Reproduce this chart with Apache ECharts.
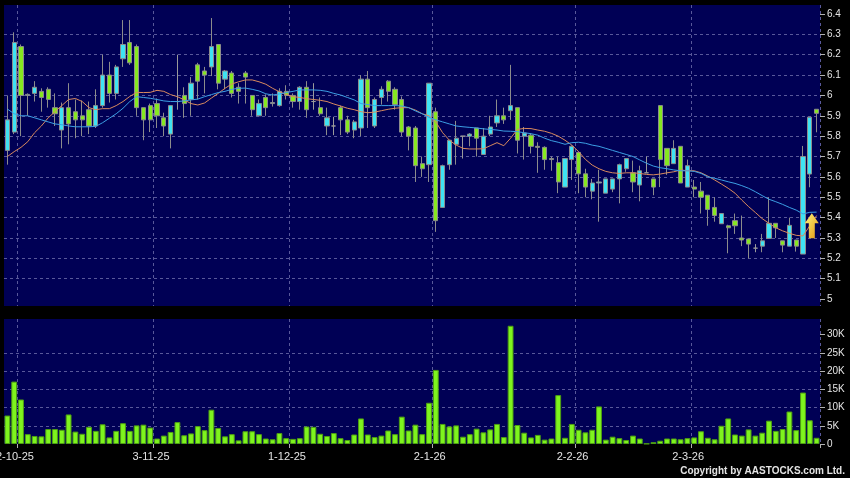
<!DOCTYPE html>
<html>
<head>
<meta charset="utf-8">
<title>AASTOCKS daily chart</title>
<script src="https://cdn.jsdelivr.net/npm/echarts@6/dist/echarts.min.js"></script>
<style>
  html, body { margin: 0; padding: 0; background: #000; }
  #chart { width: 850px; height: 478px; }
</style>
</head>
<body>
<div id="chart"></div>
<script>
// daily candles: [open, close, low, high]
const candles = [
  [5.73, 5.88, 5.66, 6.00], [5.82, 6.26, 5.81, 6.31], [6.24, 6.00, 5.80, 6.25], [6.00, 6.005, 5.90, 6.01],
  [6.01, 6.04, 5.97, 6.07], [6.02, 5.99, 5.92, 6.035], [6.03, 5.98, 5.94, 6.04], [5.94, 5.91, 5.85, 6.01],
  [5.83, 5.94, 5.74, 5.965], [5.94, 5.86, 5.76, 6.06], [5.92, 5.88, 5.79, 5.98], [5.90, 5.88, 5.80, 5.975],
  [5.93, 5.85, 5.81, 5.97], [5.85, 5.95, 5.84, 6.03], [5.95, 6.10, 5.94, 6.20], [6.10, 6.01, 5.965, 6.165],
  [6.01, 6.14, 5.98, 6.15], [6.18, 6.25, 6.14, 6.37], [6.26, 6.16, 6.15, 6.37], [6.24, 5.94, 5.90, 6.25],
  [5.94, 5.88, 5.78, 5.94], [5.95, 5.88, 5.82, 5.96], [5.96, 5.90, 5.84, 5.985], [5.89, 5.85, 5.80, 5.915],
  [5.81, 5.95, 5.74, 5.95], [5.97, 5.97, 5.93, 6.20], [6.00, 5.96, 5.89, 6.04], [5.98, 6.06, 5.90, 6.09],
  [6.15, 6.07, 5.98, 6.16], [6.12, 6.10, 6.01, 6.14], [6.14, 6.24, 6.095, 6.38], [6.25, 6.06, 6.03, 6.25],
  [6.08, 6.12, 6.03, 6.125], [6.11, 6.01, 5.99, 6.12], [6.04, 6.02, 5.96, 6.06], [6.11, 6.09, 5.96, 6.12],
  [6.00, 5.93, 5.90, 6.00], [5.90, 5.96, 5.90, 5.98], [5.99, 5.94, 5.90, 6.005], [5.96, 5.965, 5.945, 6.01],
  [5.95, 6.02, 5.945, 6.035], [6.02, 6.00, 5.98, 6.05], [6.00, 5.97, 5.94, 6.01], [5.97, 6.04, 5.93, 6.045],
  [6.04, 5.93, 5.89, 6.07], [5.97, 5.97, 5.93, 6.06], [5.94, 5.91, 5.90, 5.99], [5.85, 5.89, 5.805, 5.94],
  [5.85, 5.85, 5.805, 5.895], [5.94, 5.88, 5.805, 5.95], [5.88, 5.82, 5.81, 5.90], [5.83, 5.87, 5.79, 5.88],
  [5.84, 6.08, 5.80, 6.10], [6.08, 5.94, 5.84, 6.12], [5.85, 5.98, 5.84, 5.99], [5.99, 6.03, 5.955, 6.045],
  [6.07, 6.02, 5.97, 6.075], [6.03, 5.955, 5.93, 6.04], [5.98, 5.82, 5.80, 5.995], [5.845, 5.80, 5.73, 5.85],
  [5.84, 5.655, 5.575, 5.85], [5.665, 5.64, 5.60, 5.70], [5.66, 6.06, 5.575, 6.06], [5.92, 5.385, 5.33, 5.94],
  [5.45, 5.655, 5.45, 5.66], [5.66, 5.78, 5.635, 5.78], [5.76, 5.79, 5.66, 5.875], [5.80, 5.80, 5.69, 5.80],
  [5.80, 5.81, 5.75, 5.815], [5.84, 5.79, 5.70, 5.84], [5.71, 5.80, 5.71, 5.84], [5.81, 5.845, 5.80, 5.90],
  [5.865, 5.90, 5.845, 5.98], [5.90, 5.88, 5.86, 5.94], [5.925, 5.95, 5.88, 6.15], [5.94, 5.78, 5.715, 5.94],
  [5.80, 5.815, 5.685, 5.845], [5.805, 5.75, 5.715, 5.815], [5.75, 5.745, 5.62, 5.77], [5.745, 5.685, 5.635, 5.75],
  [5.69, 5.685, 5.63, 5.70], [5.67, 5.575, 5.52, 5.70], [5.55, 5.69, 5.55, 5.69], [5.685, 5.75, 5.585, 5.755],
  [5.72, 5.615, 5.52, 5.725], [5.615, 5.55, 5.50, 5.64], [5.53, 5.57, 5.49, 5.59], [5.57, 5.575, 5.38, 5.635],
  [5.52, 5.59, 5.52, 5.59], [5.54, 5.59, 5.525, 5.59], [5.59, 5.66, 5.47, 5.665], [5.64, 5.69, 5.625, 5.69],
  [5.62, 5.575, 5.525, 5.68], [5.56, 5.63, 5.48, 5.655], [5.62, 5.62, 5.62, 5.70], [5.59, 5.55, 5.51, 5.59],
  [5.95, 5.685, 5.55, 5.95], [5.74, 5.655, 5.61, 5.74], [5.665, 5.74, 5.665, 5.78], [5.75, 5.57, 5.57, 5.75],
  [5.55, 5.655, 5.55, 5.685], [5.55, 5.54, 5.50, 5.585], [5.53, 5.50, 5.42, 5.575], [5.51, 5.44, 5.36, 5.51],
  [5.45, 5.41, 5.38, 5.50], [5.37, 5.42, 5.37, 5.42], [5.36, 5.35, 5.225, 5.365], [5.385, 5.36, 5.32, 5.42],
  [5.30, 5.29, 5.26, 5.41], [5.295, 5.27, 5.20, 5.295], [5.25, 5.25, 5.23, 5.27], [5.26, 5.286, 5.23, 5.32],
  [5.298, 5.372, 5.298, 5.50], [5.372, 5.35, 5.30, 5.372], [5.286, 5.265, 5.23, 5.286], [5.26, 5.362, 5.26, 5.40],
  [5.29, 5.26, 5.233, 5.29], [5.221, 5.70, 5.221, 5.752], [5.614, 5.893, 5.549, 5.893], [5.932, 5.912, 5.819, 5.932]
];

// short moving average (orange)
const maShort = [
  5.70, 5.724, 5.745, 5.773, 5.817, 5.85, 5.89, 5.92, 5.95, 5.98, 5.985, 5.97, 5.94, 5.93, 5.935, 5.935, 5.95, 5.97, 5.995, 6.015,
  6.014, 6.015, 6.025, 6.02, 6.004, 5.994, 5.978, 5.96, 5.953, 5.963, 5.987, 6.01, 6.035, 6.056, 6.067, 6.076, 6.076, 6.067, 6.055, 6.035,
  6.018, 6.005, 5.994, 5.99, 5.984, 5.98, 5.976, 5.97, 5.958, 5.948, 5.937, 5.93, 5.92, 5.915, 5.918, 5.925, 5.932, 5.937, 5.94, 5.94,
  5.928, 5.91, 5.90, 5.87, 5.817, 5.78, 5.756, 5.74, 5.737, 5.737, 5.738, 5.753, 5.768, 5.753, 5.79, 5.833, 5.838, 5.837, 5.83, 5.824,
  5.814, 5.80, 5.78, 5.756, 5.724, 5.686, 5.658, 5.64, 5.627, 5.62, 5.617, 5.62, 5.62, 5.617, 5.612, 5.61, 5.614, 5.62, 5.625, 5.634,
  5.63, 5.63, 5.62, 5.604, 5.585, 5.565, 5.544, 5.52, 5.486, 5.454, 5.425, 5.395, 5.372, 5.35, 5.335, 5.323, 5.313, 5.31, 5.36, 5.41
];

// long moving average (blue)
const maLong = [
  5.933, 5.91, 5.90, 5.90, 5.89, 5.88, 5.87, 5.86, 5.856, 5.85, 5.846, 5.846, 5.846, 5.848, 5.866, 5.888, 5.91, 5.937, 5.97, 5.994,
  5.99, 5.986, 5.98, 5.973, 5.97, 5.97, 5.973, 5.978, 5.982, 5.994, 6.004, 6.014, 6.02, 6.03, 6.035, 6.036, 6.03, 6.022, 6.008, 6.002,
  6.007, 6.014, 6.02, 6.027, 6.027, 6.027, 6.025, 6.02, 6.01, 6.002, 5.99, 5.978, 5.96, 5.955, 5.95, 5.95, 5.95, 5.95, 5.948, 5.94,
  5.924, 5.91, 5.892, 5.88, 5.87, 5.86, 5.85, 5.846, 5.843, 5.84, 5.836, 5.833, 5.83, 5.825, 5.824, 5.822, 5.817, 5.812, 5.805, 5.79,
  5.778, 5.77, 5.76, 5.768, 5.77, 5.765, 5.756, 5.75, 5.74, 5.73, 5.72, 5.71, 5.70, 5.683, 5.667, 5.653, 5.645, 5.64, 5.634, 5.63,
  5.63, 5.627, 5.617, 5.60, 5.593, 5.585, 5.576, 5.568, 5.557, 5.544, 5.527, 5.508, 5.49, 5.478, 5.465, 5.45, 5.437, 5.418, 5.426, 5.427
];

// volume, thousands of shares
const volume = [
  7.8, 17.1, 12.2, 2.7, 2.2, 2.1, 4.1, 4.1, 3.9, 8.1, 3.4, 2.8, 4.7, 3.6, 5.4, 1.8, 3.6, 5.7, 3.6, 5.1,
  5.3, 4.5, 1.5, 2.3, 3.3, 6.0, 2.4, 2.9, 4.9, 3.8, 9.4, 4.4, 2.1, 2.7, 1.0, 3.5, 3.5, 2.7, 1.5, 1.3,
  3.0, 1.6, 1.4, 1.6, 4.8, 4.7, 2.8, 2.2, 3.0, 1.6, 1.1, 2.6, 7.0, 2.6, 1.9, 2.3, 3.7, 2.7, 7.5, 3.7,
  5.3, 2.7, 11.3, 20.3, 5.5, 4.8, 5.1, 2.0, 2.7, 4.2, 3.2, 4.0, 5.5, 1.9, 32.4, 5.2, 3.1, 1.8, 2.5, 1.2,
  1.5, 13.4, 1.7, 5.5, 3.9, 3.2, 3.9, 10.3, 1.2, 2.0, 1.6, 1.1, 2.3, 1.5, 0.1, 0.5, 0.9, 1.5, 1.5, 1.3,
  1.6, 1.8, 3.5, 1.7, 1.3, 5.0, 7.0, 2.6, 2.3, 4.0, 2.3, 3.1, 6.4, 3.6, 4.1, 8.9, 3.8, 14.1, 6.5, 1.7
];

const days = candles.map((_, i) => i);

// date ticks: a grid line sits at the start of these day slots, the label on the day before
const tickSlots = [2, 22, 42, 63, 84, 101];
const tickLabels = ['2-10-25', '3-11-25', '1-12-25', '2-1-26', '2-2-26', '2-3-26'];
const priceTicks = [5, 5.1, 5.2, 5.3, 5.4, 5.5, 5.6, 5.7, 5.8, 5.9, 6, 6.1, 6.2, 6.3, 6.4];
const volumeTicks = [0, 5, 10, 15, 20, 25, 30];

// yellow signal arrow: [day, price]
const arrowAt = [118, 5.36];

const chart = echarts.init(document.getElementById('chart'));

const font = 'Liberation Sans';
const textColor = '#e4e4e4';
const gridLine = { color: '#58589a', type: [3, 3], width: 1 };
const isSlot = (i) => tickSlots.includes(i);

chart.setOption({
  backgroundColor: '#000000',
  animation: false,
  grid: [
    { left: 4, right: 30, top: 5, height: 301, outerBoundsMode: 'none', containLabel: false,
      show: true, backgroundColor: '#000055', borderWidth: 0 },
    { left: 4, right: 30, top: 319, height: 125, outerBoundsMode: 'none', containLabel: false,
      show: true, backgroundColor: '#000055', borderWidth: 0 }
  ],
  xAxis: [
    {
      type: 'category',
      gridIndex: 0,
      data: days,
      axisLine: { show: false },
      axisTick: { show: false },
      axisLabel: { show: false },
      splitLine: { show: true, interval: isSlot, lineStyle: gridLine }
    },
    {
      type: 'category',
      gridIndex: 1,
      data: days,
      axisLine: { show: false },
      axisTick: { show: true, interval: isSlot, length: 4, lineStyle: { color: '#b0b0b0' } },
      axisLabel: {
        interval: (i) => tickSlots.includes(i + 1),
        formatter: (v, i) => tickLabels[tickSlots.indexOf(i + 1)],
        color: textColor,
        fontFamily: font,
        fontSize: 11,
        margin: 7,
        padding: [0, 0, 0, 1.5]
      },
      splitLine: { show: true, interval: isSlot, lineStyle: gridLine }
    }
  ],
  yAxis: [
    {
      type: 'value',
      gridIndex: 0,
      position: 'right',
      min: 4.966,
      max: 6.444,
      splitNumber: 15,
      minInterval: 0.1,
      maxInterval: 0.1,
      axisLine: { show: false },
      axisTick: { show: true, length: 5, customValues: priceTicks, lineStyle: { color: '#b0b0b0' } },
      axisLabel: { customValues: priceTicks, color: textColor, fontFamily: font, fontSize: 10, margin: 7 },
      splitLine: { show: true, showMinLine: false, showMaxLine: false, lineStyle: gridLine }
    },
    {
      type: 'value',
      gridIndex: 1,
      position: 'right',
      min: 0,
      max: 34.25,
      splitNumber: 7,
      minInterval: 5,
      maxInterval: 5,
      axisLine: { show: false },
      axisTick: { show: true, length: 5, customValues: volumeTicks, lineStyle: { color: '#b0b0b0' } },
      axisLabel: {
        customValues: volumeTicks,
        formatter: (v) => (v === 0 ? '0' : v + 'K'),
        color: textColor,
        fontFamily: font,
        fontSize: 10,
        margin: 7
      },
      splitLine: { show: true, showMinLine: false, showMaxLine: false, lineStyle: gridLine }
    }
  ],
  series: [
    {
      type: 'candlestick',
      xAxisIndex: 0,
      yAxisIndex: 0,
      data: candles,
      barWidth: '68%',
      clip: false,
      itemStyle: {
        color: '#3fe3f3',
        color0: '#86e820',
        borderColor: '#8c8c8c',
        borderColor0: '#8c8c8c',
        borderColorDoji: '#9a9a9a',
        borderWidth: 1
      },
      markPoint: {
        silent: true,
        symbol: 'path://M7,0 L14,10 L10,10 L10,25 L4,25 L4,10 L0,10 Z',
        symbolSize: [14, 25],
        symbolOffset: [2, 0],
        label: { show: false },
        itemStyle: {
          color: new echarts.graphic.LinearGradient(0, 0, 1, 1, [
            { offset: 0, color: '#fff27a' },
            { offset: 1, color: '#e39a12' }
          ])
        },
        data: [{ coord: arrowAt }]
      }
    },
    {
      name: 'MA short',
      type: 'line',
      xAxisIndex: 0,
      yAxisIndex: 0,
      data: maShort,
      symbol: 'none',
      z: 4,
      lineStyle: { color: '#d98a5e', width: 1 }
    },
    {
      name: 'MA long',
      type: 'line',
      xAxisIndex: 0,
      yAxisIndex: 0,
      data: maLong,
      symbol: 'none',
      z: 4,
      lineStyle: { color: '#3c9fe4', width: 1 }
    },
    {
      type: 'bar',
      xAxisIndex: 1,
      yAxisIndex: 1,
      data: volume,
      barWidth: '86%',
      clip: false,
      itemStyle: { color: '#7ef41e', borderColor: '#4e9e12', borderWidth: 1 }
    }
  ],
  graphic: [
    {
      type: 'text',
      right: 5,
      top: 466,
      style: {
        text: 'Copyright by AASTOCKS.com Ltd.',
        fill: textColor,
        font: 'bold 10px Liberation Sans'
      }
    }
  ]
});
</script>
</body>
</html>
